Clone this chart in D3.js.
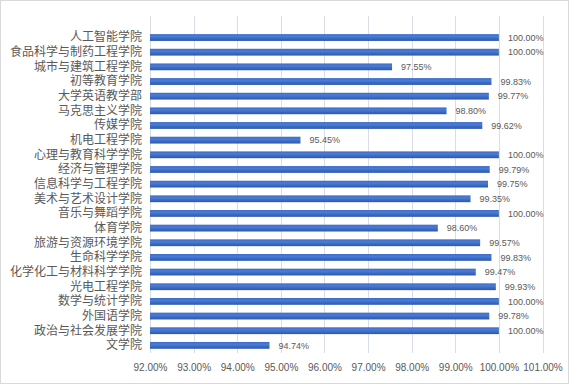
<!DOCTYPE html>
<html>
<head>
<meta charset="utf-8">
<script src="https://cdn.jsdelivr.net/npm/d3@7"></script>
<style>
  body { margin: 0; background: #fff; }
</style>
</head>
<body>
<div id="chart"></div>
<script>
const colleges = [
  "人工智能学院", "食品科学与制药工程学院", "城市与建筑工程学院", "初等教育学院",
  "大学英语教学部", "马克思主义学院", "传媒学院", "机电工程学院",
  "心理与教育科学学院", "经济与管理学院", "信息科学与工程学院", "美术与艺术设计学院",
  "音乐与舞蹈学院", "体育学院", "旅游与资源环境学院", "生命科学学院",
  "化学化工与材料科学学院", "光电工程学院", "数学与统计学院", "外国语学院",
  "政治与社会发展学院", "文学院"
];
const rates = [
  100.00, 100.00, 97.55, 99.83,
  99.77, 98.80, 99.62, 95.45,
  100.00, 99.79, 99.75, 99.35,
  100.00, 98.60, 99.57, 99.83,
  99.47, 99.93, 100.00, 99.78,
  100.00, 94.74
];
const xTicks = [92, 93, 94, 95, 96, 97, 98, 99, 100, 101];

const sizes = {width: 570, height: 386, margin: {top: 16, right: 28, bottom: 33, left: 150}};
const font = "'Liberation Sans', Arial, sans-serif";
const cjk = "'Noto Sans CJK SC', sans-serif";
const textColour = "#595959";

const svg = d3.select("#chart").append("svg")
  .attr("width", sizes.width)
  .attr("height", sizes.height)
  .attr("viewBox", `0 0 ${sizes.width} ${sizes.height}`);

// chart frame
svg.append("rect")
  .attr("x", 0.5).attr("y", 0.5)
  .attr("width", sizes.width - 2).attr("height", sizes.height - 3)
  .attr("fill", "#fff")
  .attr("stroke", "#d9d9d9");

const grad = svg.append("defs").append("linearGradient")
  .attr("id", "barGrad").attr("x1", 0).attr("y1", 0).attr("x2", 0).attr("y2", 1);
grad.append("stop").attr("offset", "0%").attr("stop-color", "#3d6cc6");
grad.append("stop").attr("offset", "35%").attr("stop-color", "#4a7bd6");
grad.append("stop").attr("offset", "100%").attr("stop-color", "#2c58ad");

const x = d3.scaleLinear()
  .domain([92, 101])
  .range([sizes.margin.left, sizes.width - sizes.margin.right + 0.5]);

const y = d3.scaleBand()
  .domain(colleges)
  .range([30.2, 352.7])
  .paddingInner(0.536)
  .paddingOuter(0.268);

const plotBottom = sizes.height - sizes.margin.bottom;

// vertical gridlines
svg.append("g")
  .selectAll("line")
  .data(xTicks)
  .join("line")
    .attr("x1", d => Math.round(x(d)) + 0.5)
    .attr("x2", d => Math.round(x(d)) + 0.5)
    .attr("y1", sizes.margin.top)
    .attr("y2", plotBottom)
    .attr("stroke", "#d9dde5")
    .attr("stroke-width", 1);

// x axis labels
svg.append("g")
  .attr("transform", `translate(0,${plotBottom})`)
  .call(d3.axisBottom(x).tickValues(xTicks).tickSize(0).tickPadding(11)
    .tickFormat(d => d3.format(".2f")(d) + "%"))
  .call(g => g.select(".domain").remove())
  .selectAll("text")
    .style("font-size", "10px")
    .style("font-family", font)
    .style("fill", textColour);

// y axis labels
svg.append("g")
  .attr("transform", `translate(${sizes.margin.left},0)`)
  .call(d3.axisLeft(y).tickSize(0).tickPadding(8))
  .call(g => g.select(".domain").remove())
  .selectAll("text")
    .style("font-size", "12px")
    .style("font-family", cjk)
    .style("fill", textColour);

const rows = colleges.map((c, i) => ({college: c, rate: rates[i]}));

svg.append("g")
  .selectAll("rect")
  .data(rows)
  .join("rect")
    .attr("x", x(92))
    .attr("y", d => y(d.college))
    .attr("width", d => x(d.rate) - x(92))
    .attr("height", y.bandwidth())
    .attr("fill", "url(#barGrad)");

svg.append("g")
  .selectAll("text")
  .data(rows)
  .join("text")
    .text(d => d3.format(".2f")(d.rate) + "%")
    .attr("x", d => x(d.rate) + 9)
    .attr("y", d => y(d.college) + y.bandwidth() / 2)
    .attr("dy", "0.35em")
    .style("font-size", "9px")
    .style("font-family", font)
    .style("fill", textColour);
</script>
</body>
</html>
